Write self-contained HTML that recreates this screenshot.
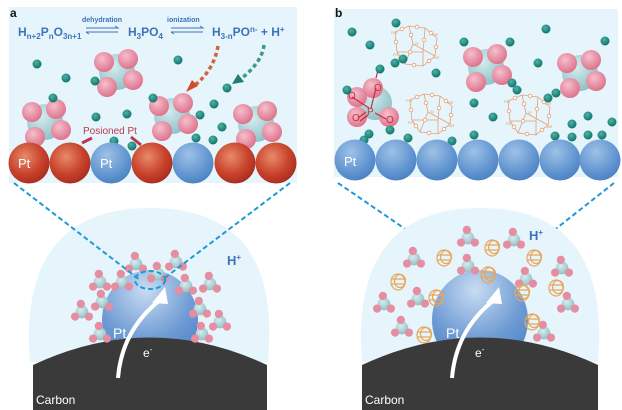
<!DOCTYPE html>
<html><head><meta charset="utf-8"><style>
html,body{margin:0;padding:0;background:#fff;width:622px;height:410px;overflow:hidden}
svg{display:block}
text{font-family:"Liberation Sans",sans-serif}
</style></head><body>
<svg width="622" height="410" viewBox="0 0 622 410" xmlns="http://www.w3.org/2000/svg">
<defs>
<radialGradient id="red" cx="0.4" cy="0.35" r="0.7"><stop offset="0" stop-color="#e88a6a"/><stop offset="0.6" stop-color="#c8432c"/><stop offset="1" stop-color="#a82a1e"/></radialGradient>
<radialGradient id="blue" cx="0.4" cy="0.3" r="0.75"><stop offset="0" stop-color="#9fc1e6"/><stop offset="0.7" stop-color="#5e93cf"/><stop offset="1" stop-color="#4a7fbf"/></radialGradient>
<radialGradient id="ptb" cx="0.45" cy="0.2" r="0.85"><stop offset="0" stop-color="#c8dcf2"/><stop offset="0.6" stop-color="#6d9ad3"/><stop offset="1" stop-color="#4a80c4"/></radialGradient>
<radialGradient id="pink" cx="0.4" cy="0.35" r="0.7"><stop offset="0" stop-color="#f5bfcc"/><stop offset="1" stop-color="#dc6e88"/></radialGradient>
<radialGradient id="teal" cx="0.4" cy="0.35" r="0.75"><stop offset="0" stop-color="#d6ecee"/><stop offset="1" stop-color="#84bcc2"/></radialGradient>
<radialGradient id="dot" cx="0.4" cy="0.35" r="0.7"><stop offset="0" stop-color="#4fb2a6"/><stop offset="1" stop-color="#0b6f66"/></radialGradient>
<g id="tet"><circle cx="0" cy="0" r="18" fill="url(#teal)"/><circle cx="-13" cy="-10" r="10" fill="url(#pink)"/><circle cx="11" cy="-13" r="10" fill="url(#pink)"/><circle cx="16" cy="8" r="10" fill="url(#pink)"/><circle cx="-10" cy="15" r="10" fill="url(#pink)"/></g>
<g id="sm" transform="scale(1.15)"><circle cx="0" cy="0" r="5.5" fill="url(#teal)"/><circle cx="-1" cy="-7" r="3.6" fill="#e58ea2"/><circle cx="-6" cy="4" r="3.6" fill="#e58ea2"/><circle cx="6" cy="4" r="3.6" fill="#e58ea2"/></g>
<g id="cage" fill="none" stroke="#e8a65a" stroke-width="1.2"><ellipse cx="0" cy="0" rx="7" ry="8"/><ellipse cx="2" cy="-1" rx="5.5" ry="6.5"/><path d="M-6,-3 L6,-3 M-7,2 L7,2"/></g>
<g id="si" fill="none" stroke="#e5a074" stroke-width="0.8"><path d="M-22,-14 L-8,-20 L8,-18 L20,-8 L18,10 L6,20 L-12,18 L-20,6 Z M-8,-20 L-4,-2 L18,10 M-4,-2 L-12,18 M8,-18 L6,6 L-20,6 M6,6 L6,20"/><g fill="#fff"><circle cx="-15" cy="-17" r="1.8"/><circle cx="0" cy="-19" r="1.8"/><circle cx="14" cy="-13" r="1.8"/><circle cx="19" cy="1" r="1.8"/><circle cx="12" cy="15" r="1.8"/><circle cx="-3" cy="19" r="1.8"/><circle cx="-16" cy="12" r="1.8"/><circle cx="-21" cy="-4" r="1.8"/><circle cx="-6" cy="-11" r="1.8"/><circle cx="7" cy="-6" r="1.8"/><circle cx="-7" cy="6" r="1.8"/></g><g font-size="4" fill="#e5a074" stroke="none"><text x="-26" y="-12">RSi</text><text x="15" y="-10">SiR</text><text x="16" y="13">SiR</text><text x="-24" y="10">RSi</text><text x="-2" y="-1">Si</text></g></g>
</defs>

<rect x="9" y="7" width="288" height="176" fill="#e6f4fb"/>
<text x="10" y="17" font-size="12" font-weight="bold" fill="#111">a</text>
<g fill="#3d73b8" font-weight="bold" font-size="12">
<text x="18" y="36">H<tspan font-size="8" dy="3">n+2</tspan><tspan dy="-3">P</tspan><tspan font-size="8" dy="3">n</tspan><tspan dy="-3">O</tspan><tspan font-size="8" dy="3">3n+1</tspan></text>
<text x="128" y="36">H<tspan font-size="8" dy="3">3</tspan><tspan dy="-3">PO</tspan><tspan font-size="8" dy="3">4</tspan></text>
<text x="212" y="36">H<tspan font-size="8" dy="3">3-n</tspan><tspan dy="-3">PO</tspan><tspan font-size="8" dy="-4">n-</tspan><tspan dy="4"> + H</tspan><tspan font-size="8" dy="-4">+</tspan></text>
</g>
<g fill="#3d73b8" font-size="7" font-weight="bold"><text x="82" y="22">dehydration</text><text x="167" y="22">ionization</text></g>
<g stroke="#3d73b8" stroke-width="1" fill="none"><path d="M86,28 H118 l-3,-2 M86,32 H118 M86,32 l3,2"/><path d="M171,28 H203 l-3,-2 M171,32 H203 M171,32 l3,2"/></g>
<path d="M218,46 Q214,70 194,86" fill="none" stroke="#d4623c" stroke-width="3.5" stroke-dasharray="4,3"/>
<polygon points="186,92 198,86 192,80" fill="#d2492b"/>
<path d="M264,45 Q262,62 242,78" fill="none" stroke="#3b9a8e" stroke-width="3.5" stroke-dasharray="4,3"/>
<polygon points="232,84 244,82 238,74" fill="#1f7f74"/>
<use href="#tet" x="117" y="72"/>
<use href="#tet" x="45" y="122"/>
<use href="#tet" x="172" y="116"/>
<use href="#tet" x="256" y="124"/>
<g fill="url(#dot)">
<circle cx="37" cy="64" r="4.5"/><circle cx="66" cy="78" r="4.5"/><circle cx="95" cy="81" r="4.5"/><circle cx="178" cy="60" r="4.5"/><circle cx="53" cy="98" r="4.5"/><circle cx="96" cy="117" r="4.5"/><circle cx="127" cy="114" r="4.5"/><circle cx="153" cy="98" r="4.5"/><circle cx="227" cy="88" r="4.5"/><circle cx="214" cy="104" r="4.5"/><circle cx="200" cy="115" r="4.5"/><circle cx="222" cy="127" r="4.5"/><circle cx="196" cy="138" r="4.5"/><circle cx="213" cy="140" r="4.5"/><circle cx="114" cy="141" r="4.5"/><circle cx="132" cy="146" r="4.5"/>
</g>
<g stroke="#b8394f" stroke-width="3"><line x1="82" y1="143" x2="92" y2="138"/><line x1="131" y1="137" x2="141" y2="145"/></g>
<text x="83" y="134" font-size="10" fill="#b8394f">Posioned Pt</text>
<circle cx="29" cy="163" r="20.5" fill="url(#red)"/><circle cx="70" cy="163" r="20.5" fill="url(#red)"/><circle cx="111" cy="163" r="20.5" fill="url(#blue)"/><circle cx="152" cy="163" r="20.5" fill="url(#red)"/><circle cx="193" cy="163" r="20.5" fill="url(#blue)"/><circle cx="235" cy="163" r="20.5" fill="url(#red)"/><circle cx="276" cy="163" r="20.5" fill="url(#red)"/>
<text x="18" y="168" font-size="13" fill="#fff">Pt</text><text x="100" y="168" font-size="13" fill="#fff">Pt</text>

<rect x="334" y="9" width="284" height="168" fill="#e6f4fb"/>
<text x="335" y="17" font-size="12" font-weight="bold" fill="#111">b</text>
<use href="#si" x="417" y="46"/><use href="#si" x="432" y="114"/><use href="#si" x="530" y="115"/>
<use href="#tet" x="486" y="67"/><use href="#tet" x="580" y="73"/>
<circle cx="375" cy="103" r="17" fill="url(#teal)"/>
<circle cx="373" cy="88" r="10" fill="url(#pink)"/><circle cx="357" cy="97" r="10" fill="url(#pink)"/><circle cx="357" cy="117" r="10" fill="url(#pink)"/><circle cx="389" cy="117" r="10" fill="url(#pink)"/>
<g stroke="#c0303f" stroke-width="1.2" fill="none"><path d="M371,108 L376,88 M369,108 L352,97 M366,112 L358,118 M368,115 L360,121 M375,113 L386,119 M376,78 L378,70"/></g>
<g fill="#c0303f" font-size="10"><text x="367" y="115">P</text><text x="374" y="91">O</text><text x="348" y="99">O</text><text x="352" y="121">O</text><text x="386" y="123">O</text></g>
<g fill="url(#dot)">
<circle cx="352" cy="32" r="4.5"/><circle cx="396" cy="23" r="4.5"/><circle cx="370" cy="45" r="4.5"/><circle cx="380" cy="69" r="4.5"/><circle cx="395" cy="63" r="4.5"/><circle cx="403" cy="59" r="4.5"/><circle cx="436" cy="73" r="4.5"/><circle cx="464" cy="42" r="4.5"/><circle cx="510" cy="42" r="4.5"/><circle cx="546" cy="29" r="4.5"/><circle cx="538" cy="63" r="4.5"/><circle cx="605" cy="41" r="4.5"/><circle cx="512" cy="83" r="4.5"/><circle cx="517" cy="90" r="4.5"/><circle cx="548" cy="98" r="4.5"/><circle cx="556" cy="93" r="4.5"/><circle cx="474" cy="103" r="4.5"/><circle cx="493" cy="117" r="4.5"/><circle cx="347" cy="90" r="4.5"/><circle cx="390" cy="130" r="4.5"/><circle cx="369" cy="134" r="4.5"/><circle cx="364" cy="140" r="4.5"/><circle cx="408" cy="138" r="4.5"/><circle cx="452" cy="141" r="4.5"/><circle cx="474" cy="135" r="4.5"/><circle cx="555" cy="136" r="4.5"/><circle cx="572" cy="137" r="4.5"/><circle cx="572" cy="124" r="4.5"/><circle cx="588" cy="116" r="4.5"/><circle cx="612" cy="122" r="4.5"/><circle cx="588" cy="135" r="4.5"/><circle cx="602" cy="135" r="4.5"/>
</g>
<circle cx="355" cy="160" r="20.5" fill="url(#blue)"/><circle cx="396" cy="160" r="20.5" fill="url(#blue)"/><circle cx="437" cy="160" r="20.5" fill="url(#blue)"/><circle cx="478" cy="160" r="20.5" fill="url(#blue)"/><circle cx="519" cy="160" r="20.5" fill="url(#blue)"/><circle cx="560" cy="160" r="20.5" fill="url(#blue)"/><circle cx="600" cy="160" r="20.5" fill="url(#blue)"/>
<text x="344" y="166" font-size="13" fill="#fff">Pt</text>

<path d="M30,362 C24,290 40,208 150,208 C262,208 274,290 268,362 Z" fill="#e6f4fb"/>
<ellipse cx="150" cy="320" rx="48" ry="50" fill="url(#ptb)"/>
<path d="M33,365 Q150,310 267,365 L267,410 L33,410 Z" fill="#3a3a3a"/>
<text x="36" y="404" font-size="12" fill="#fff">Carbon</text>
<text x="113" y="338" font-size="14" fill="#fff">Pt</text>
<text x="143" y="357" font-size="12" fill="#fff">e<tspan font-size="8" dy="-5">-</tspan></text>
<path d="M118,378 Q122,330 160,300" fill="none" stroke="#fff" stroke-width="4"/>
<polygon points="165,287 152,303 168,304" fill="#fff"/>
<g>
<use href="#sm" x="100" y="282"/><use href="#sm" x="136" y="264"/><use href="#sm" x="176" y="262"/><use href="#sm" x="122" y="282"/><use href="#sm" x="158" y="274"/><use href="#sm" x="186" y="286"/><use href="#sm" x="210" y="284"/><use href="#sm" x="102" y="302"/><use href="#sm" x="82" y="312"/><use href="#sm" x="200" y="309"/><use href="#sm" x="220" y="322"/><use href="#sm" x="100" y="334"/><use href="#sm" x="202" y="334"/>
</g>
<text x="227" y="265" font-size="13" font-weight="bold" fill="#3d73b8">H<tspan font-size="8" dy="-5">+</tspan></text>
<g stroke="#1d9ad6" stroke-width="2" stroke-dasharray="5,3" fill="none">
<line x1="14" y1="183" x2="140" y2="280"/><line x1="290" y1="183" x2="162" y2="280"/>
<ellipse cx="150" cy="280" rx="15" ry="9"/>
<line x1="338" y1="183" x2="474" y2="276"/><line x1="614" y1="183" x2="496" y2="276"/>
<ellipse cx="485" cy="276" rx="15" ry="9"/>
</g>

<path d="M362,362 C356,290 372,208 480,208 C590,208 604,290 598,362 Z" fill="#e6f4fb"/>
<ellipse cx="480" cy="320" rx="48" ry="50" fill="url(#ptb)"/>
<path d="M362,365 Q480,310 598,365 L598,410 L362,410 Z" fill="#3a3a3a"/>
<text x="365" y="404" font-size="12" fill="#fff">Carbon</text>
<text x="446" y="338" font-size="14" fill="#fff">Pt</text>
<text x="475" y="357" font-size="12" fill="#fff">e<tspan font-size="8" dy="-5">-</tspan></text>
<path d="M452,378 Q456,330 494,300" fill="none" stroke="#fff" stroke-width="4"/>
<polygon points="499,287 486,303 502,304" fill="#fff"/>
<use href="#sm" x="468" y="238"/><use href="#sm" x="514" y="240"/><use href="#sm" x="414" y="259"/><use href="#sm" x="468" y="266"/><use href="#sm" x="562" y="268"/><use href="#sm" x="526" y="279"/><use href="#sm" x="418" y="299"/><use href="#sm" x="384" y="304"/><use href="#sm" x="568" y="304"/><use href="#sm" x="402" y="328"/><use href="#sm" x="544" y="333"/>
<use href="#cage" x="444" y="258"/><use href="#cage" x="492" y="248"/><use href="#cage" x="534" y="258"/><use href="#cage" x="488" y="275"/><use href="#cage" x="398" y="282"/><use href="#cage" x="556" y="288"/><use href="#cage" x="436" y="298"/><use href="#cage" x="522" y="293"/><use href="#cage" x="532" y="322"/><use href="#cage" x="424" y="335"/>
<text x="529" y="240" font-size="13" font-weight="bold" fill="#3d73b8">H<tspan font-size="8" dy="-5">+</tspan></text>
</svg>
</body></html>
